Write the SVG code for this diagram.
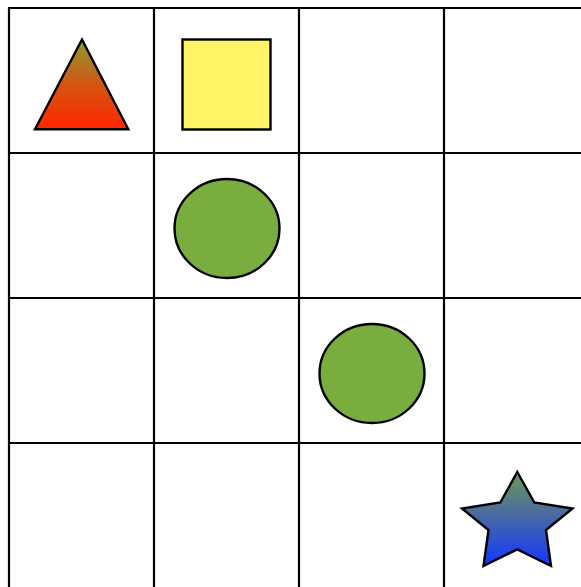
<svg xmlns="http://www.w3.org/2000/svg" width="581" height="587" viewBox="0 0 581 587">
<style>
.grid line{stroke:#000;stroke-width:2.2}
.shape{stroke:#000;stroke-width:2.4}
</style>
<defs>
<linearGradient id="gTri" x1="0" y1="0" x2="0" y2="1">
<stop offset="0" stop-color="#8f9a30"/>
<stop offset="0.55" stop-color="#d9500f"/>
<stop offset="1" stop-color="#ff2600"/>
</linearGradient>
<linearGradient id="gStar" x1="0" y1="0" x2="0" y2="1">
<stop offset="0" stop-color="#6a9a5a"/>
<stop offset="0.45" stop-color="#4a6aa0"/>
<stop offset="1" stop-color="#1238ff"/>
</linearGradient>
</defs>
<rect width="581" height="587" fill="#fff"/>
<g class="grid">
<line x1="9" y1="7" x2="9" y2="587"/>
<line x1="154" y1="7" x2="154" y2="587"/>
<line x1="299" y1="7" x2="299" y2="587"/>
<line x1="444" y1="7" x2="444" y2="587"/>
<line x1="8" y1="8" x2="581" y2="8"/>
<line x1="8" y1="153" x2="581" y2="153"/>
<line x1="8" y1="298" x2="581" y2="298"/>
<line x1="8" y1="443" x2="581" y2="443"/>
</g>
<g id="triangle"><polygon class="shape" points="82,39.5 35,129.3 128.3,129.3" fill="url(#gTri)"/></g>
<g id="square"><rect class="shape" x="182.5" y="39.5" width="88" height="90" fill="#fff566"/></g>
<g id="circle1"><ellipse class="shape" cx="227" cy="228.5" rx="52.5" ry="49.5" fill="#79ad3d"/></g>
<g id="circle2"><ellipse class="shape" cx="372" cy="373.5" rx="52.5" ry="49.5" fill="#79ad3d"/></g>
<g id="star"><polygon class="shape" points="517.3,472 534.3,502.5 572.5,508.5 546,530 551,566 517.3,549.3 483.5,566 488.5,530 462,508.5 500.3,502.5" fill="url(#gStar)"/></g>
</svg>
